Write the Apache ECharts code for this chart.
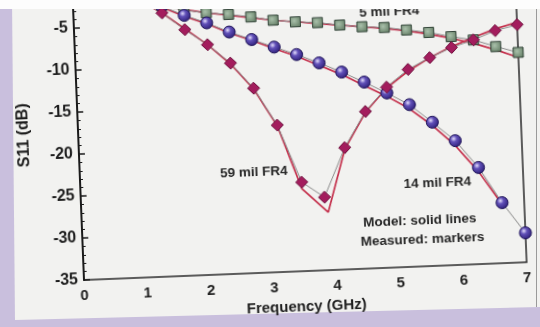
<!DOCTYPE html>
<html>
<head>
    <meta charset="UTF-8" />
    <title>S11 vs frequency</title>
    <script src="https://cdn.jsdelivr.net/npm/echarts@6/dist/echarts.min.js"></script>
    <style>
        html, body { margin: 0; padding: 0; width: 540px; height: 327px; overflow: hidden; background: #c9bfdd; }
        /* the printed page as seen in the photo */
        #paper {
            position: absolute; left: 0; top: 0; width: 540px; height: 327px;
            background: #f2f2f0;
            clip-path: polygon(12px 0, 540px 0, 540px 307px, 15px 320px);
        }
        #edge { position: absolute; left: 536px; top: 0; width: 1px; height: 307px; background: #9a9a9a; }
        /* the chart is turned a little, like the photo */
        #chartCon {
            position: absolute; left: 16px; top: -60px; width: 600px; height: 430px;
            transform-origin: 68px 340px;
            transform: rotate(-2.3deg);
        }
        #topBand { position: absolute; left: 0; top: 0; width: 540px; height: 9px; background: #fdfdfd; z-index: 5; }
    </style>
    <script type="text/javascript">
        //frequency of every measured point (GHz)
        var freq = [0.35, 0.7, 1.05, 1.4, 1.75, 2.1, 2.45, 2.8, 3.15, 3.5, 3.85, 4.2, 4.55, 4.9, 5.25, 5.6, 5.95, 6.3, 6.65, 7.0];
        //measured S11 (dB)
        var meas5 = [-0.5, -1.2, -2.0, -2.7, -3.4, -3.8, -4.1, -4.5, -5.0, -5.3, -5.5, -5.9, -6.2, -6.4, -6.8, -7.2, -7.8, -8.3, -9.2, -10.0];
        var meas14 = [-0.3, -0.8, -1.6, -2.8, -4.0, -5.0, -6.2, -7.2, -8.2, -9.2, -10.3, -11.5, -12.8, -14.2, -15.7, -17.9, -20.2, -23.5, -27.8, -31.5];
        var meas59 = [-0.3, -0.9, -2.0, -3.6, -5.7, -7.6, -9.9, -13.0, -17.5, -24.4, -26.3, -20.5, -16.3, -13.5, -11.5, -10.2, -9.1, -8.3, -7.3, -6.7];
        //model curves
        var model5 = [-0.5, -1.2, -2.0, -2.7, -3.3, -3.8, -4.2, -4.6, -5.0, -5.3, -5.6, -5.9, -6.2, -6.5, -6.9, -7.4, -8.0, -8.7, -9.6, -10.6];
        var modelFreq14 = [0.35, 0.7, 1.05, 1.4, 1.75, 2.1, 2.45, 2.8, 3.15, 3.5, 3.85, 4.2, 4.55, 4.9, 5.25, 5.6, 5.95, 6.3, 6.65];
        var model14 = [-0.3, -0.8, -1.7, -2.9, -4.1, -5.1, -6.3, -7.3, -8.4, -9.4, -10.6, -11.8, -13.2, -14.6, -16.2, -18.3, -20.8, -24.0, -28.0];
        var modelFreq59 = [0.35, 0.7, 1.05, 1.4, 1.75, 2.1, 2.45, 2.8, 3.15, 3.5, 3.9, 4.2, 4.55, 4.9, 5.25, 5.6, 5.95, 6.3, 6.65, 7.0];
        var model59 = [-0.5, -1.1, -2.0, -3.6, -5.6, -7.6, -10.0, -13.1, -17.6, -25.2, -28.1, -20.7, -16.4, -13.6, -11.7, -10.2, -9.0, -8.0, -7.1, -6.4];
        //axis ticks
        var xTicks = [0, 1, 2, 3, 4, 5, 6, 7];
        var yTicks = [-35, -30, -25, -20, -15, -10, -5, 0];
        //text notes (placed in data coordinates)
        var notes = ['5 mil FR4', '59 mil FR4', '14 mil FR4', 'Model: solid lines', 'Measured: markers'];
        var notePos = [[4.99, -4.6], [2.75, -23.0], [5.64, -25.1], [5.34, -29.5], [5.37, -31.8]];

        function pairs(xs, ys) {
            var out = [];
            for (var i = 0; i < ys.length; i++) {
                out.push([xs[i], ys[i]]);
            }
            return out;
        }

        function modelSeries(xs, ys) {
            return {
                type: 'line', data: pairs(xs, ys), showSymbol: false, z: 2,
                lineStyle: { color: '#c4304c', width: 1.7 }
            };
        }

        function measSeries(ys, symbol, size, fill, border) {
            return {
                type: 'line', data: pairs(freq, ys), symbol: symbol, symbolSize: size, z: 3,
                lineStyle: { color: '#8a8a8a', width: 1 },
                itemStyle: { color: fill, borderColor: border, borderWidth: 1 }
            };
        }

        function init() {
            var myChart = echarts.init(document.getElementById('chartCon'), null, { renderer: 'canvas' });
            var option = {
                animation: false,
                grid: {
                    left: 68, right: 89, top: 46, bottom: 90, show: true,
                    borderColor: '#2a2a2a', borderWidth: 1.5, outerBoundsMode: 'none'
                },
                xAxis: {
                    type: 'value', min: xTicks[0], max: xTicks[xTicks.length - 1], interval: 1,
                    name: 'Frequency (GHz)', nameLocation: 'middle', nameGap: 26,
                    nameTextStyle: { fontFamily: 'Liberation Sans', fontWeight: 'bold', fontSize: 15, color: '#1e1e1e' },
                    axisLine: { lineStyle: { color: '#1a1a1a', width: 2 } },
                    axisTick: { inside: true, length: 6, lineStyle: { color: '#1a1a1a', width: 1.5 } },
                    minorTick: { show: true, splitNumber: 5, length: 3, lineStyle: { color: '#1a1a1a' } },
                    axisLabel: { fontFamily: 'Liberation Sans', fontWeight: 'bold', fontSize: 15, color: '#1e1e1e', margin: 8 },
                    splitLine: { show: false }
                },
                yAxis: {
                    type: 'value', min: yTicks[0], max: yTicks[yTicks.length - 1], interval: 5,
                    name: 'S11 (dB)', nameLocation: 'middle', nameGap: 46,
                    nameTextStyle: { fontFamily: 'Liberation Sans', fontWeight: 'bold', fontSize: 16, color: '#1e1e1e' },
                    axisLine: { lineStyle: { color: '#1a1a1a', width: 2 } },
                    axisTick: { inside: true, length: 6, lineStyle: { color: '#1a1a1a', width: 1.5 } },
                    minorTick: { show: true, splitNumber: 5, length: 3, lineStyle: { color: '#1a1a1a' } },
                    axisLabel: { fontFamily: 'Liberation Sans', fontWeight: 'bold', fontSize: 16, color: '#1e1e1e', margin: 6 },
                    splitLine: { show: false }
                },
                series: [
                    modelSeries(freq, model5),
                    modelSeries(modelFreq14, model14),
                    modelSeries(modelFreq59, model59),
                    measSeries(meas5, 'rect', 10,
                        { type: 'radial', x: 0.4, y: 0.4, r: 0.8, colorStops: [{ offset: 0, color: '#a9c0aa' }, { offset: 1, color: '#587259' }] },
                        '#34463a'),
                    measSeries(meas14, 'circle', 12,
                        { type: 'radial', x: 0.38, y: 0.35, r: 0.7, colorStops: [{ offset: 0, color: '#e4defc' }, { offset: 0.35, color: '#6150b8' }, { offset: 1, color: '#2a1b74' }] },
                        '#1f1458'),
                    measSeries(meas59, 'diamond', 12, '#a31d5d', '#6d0f3c')
                ]
            };
            myChart.setOption(option);

            //put the notes on the chart
            var graphics = [];
            for (var i = 0; i < notes.length; i++) {
                var p = myChart.convertToPixel({ xAxisIndex: 0, yAxisIndex: 0 }, notePos[i]);
                graphics.push({
                    type: 'text', x: p[0], y: p[1], z: 10,
                    style: {
                        text: notes[i], fontFamily: 'Liberation Sans', fontWeight: 'bold', fontSize: 13.5,
                        fill: '#262626', align: 'center', verticalAlign: 'middle'
                    }
                });
            }
            myChart.setOption({ graphic: graphics });
        }
    </script>
</head>
<body onload="init();">
    <div id="paper"></div>
    <div id="edge"></div>
    <div id="chartCon"></div>
    <div id="topBand"></div>
</body>
</html>
